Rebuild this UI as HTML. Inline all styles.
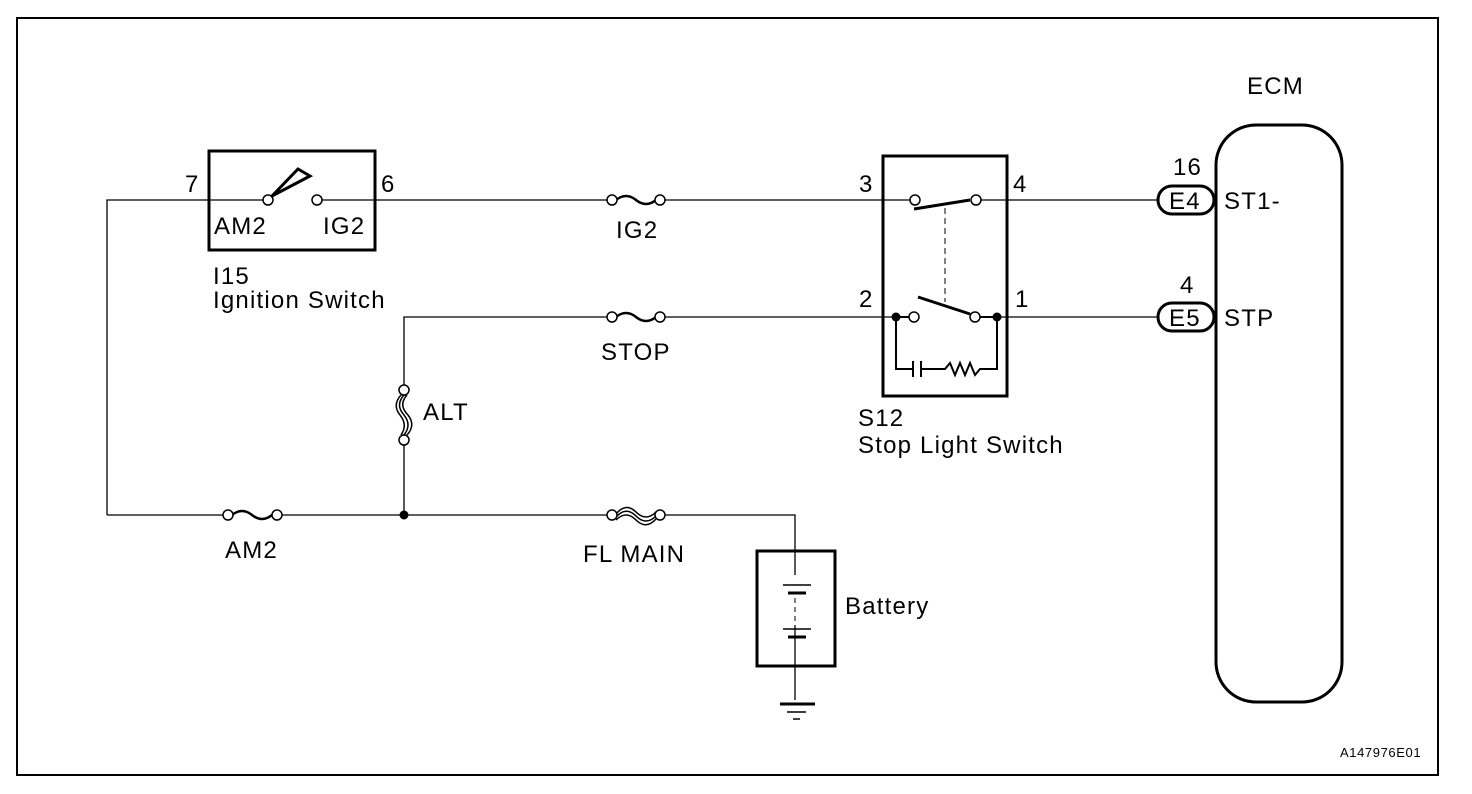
<!DOCTYPE html>
<html><head><style>body{margin:0;background:#fff}svg{display:block}text{font-family:"Liberation Sans",Arial,sans-serif;fill:#000}</style></head><body>
<svg width="1472" height="794" viewBox="0 0 1472 794" xmlns="http://www.w3.org/2000/svg">
<rect x="17" y="18" width="1421" height="757" fill="none" stroke="#000" stroke-width="2"/>
<g fill="none" stroke="#000" stroke-width="1.3">
<polyline points="107,515 107,200 263,200"/>
<line x1="322" y1="200" x2="607" y2="200"/>
<line x1="665" y1="200" x2="910" y2="200"/>
<line x1="981" y1="200" x2="1158" y2="200"/>
<polyline points="404,385 404,317 607,317"/>
<line x1="665" y1="317" x2="909" y2="317"/>
<line x1="980" y1="317" x2="1158" y2="317"/>
<line x1="404" y1="445" x2="404" y2="515"/>
<line x1="107" y1="515" x2="223" y2="515"/>
<line x1="282" y1="515" x2="607" y2="515"/>
<polyline points="665,515 795,515 795,700"/>
</g>
<g fill="none" stroke="#000" stroke-width="3">
<rect x="209" y="151" width="166" height="99"/>
<rect x="883" y="156" width="124" height="240"/>
<rect x="757" y="551" width="78" height="115"/>
<rect x="1216" y="125" width="126" height="577" rx="40"/>
<rect x="1158" y="186" width="56" height="28" rx="14"/>
<rect x="1158" y="303" width="56" height="28" rx="14"/>
</g>
<path d="M272,196 L298,169 L310,176 Z" fill="none" stroke="#000" stroke-width="3" stroke-linejoin="miter"/>
<g fill="#fff" stroke="#000" stroke-width="1.5">
<circle cx="268" cy="200" r="5"/><circle cx="317" cy="200" r="5"/>
<circle cx="915" cy="200" r="5"/><circle cx="976" cy="200" r="5"/>
<circle cx="914" cy="317" r="5"/><circle cx="975" cy="317" r="5"/>
</g>
<g stroke="#000" fill="none">
<line x1="914" y1="209" x2="970" y2="200" stroke-width="3"/>
<line x1="945" y1="208" x2="945" y2="302" stroke-width="1" stroke-dasharray="6,4"/>
<line x1="918" y1="297" x2="970" y2="314" stroke-width="3"/>
<line x1="896" y1="317" x2="909" y2="317" stroke-width="2"/>
<line x1="980" y1="317" x2="997" y2="317" stroke-width="2"/>
<polyline points="896,317 896,369 913,369" stroke-width="2"/>
<line x1="913" y1="361" x2="913" y2="377" stroke-width="2"/>
<line x1="921" y1="361" x2="921" y2="377" stroke-width="2"/>
<polyline points="921,369 945,369 950,363 955,375 960,363 965,375 970,363 975,375 980,369 997,369 997,317" stroke-width="2"/>
</g>
<g fill="#000"><circle cx="896" cy="317" r="4.5"/><circle cx="997" cy="317" r="4.5"/><circle cx="404" cy="515" r="4.5"/></g>
<g fill="none" stroke="#000" stroke-width="2.5">
<path d="M616,200 Q626,192 636,200 Q646,208 656,200"/>
<path d="M616,317 Q626,309 636,317 Q646,325 656,317"/>
<path d="M232,515 Q242,507 252,515 Q262,523 272,515"/>
</g>
<g fill="none" stroke="#000" stroke-width="1.5">
<path d="M616,514 Q626,502 636,512 Q646,522 656,512"/>
<path d="M616,517 Q626,506 636,516 Q646,526 656,516"/>
<path d="M616,520 Q626,510 636,520 Q646,530 656,519"/>
<path d="M401,395 Q392,405 400,415 Q408,425 401,435"/>
<path d="M404,395 Q395,405 404,415 Q412,425 404,435"/>
<path d="M407,395 Q398,405 408,415 Q416,425 407,435"/>
</g>
<g fill="#fff" stroke="#000" stroke-width="1.5">
<circle cx="612" cy="200" r="5"/><circle cx="660" cy="200" r="5"/>
<circle cx="612" cy="317" r="5"/><circle cx="660" cy="317" r="5"/>
<circle cx="228" cy="515" r="5"/><circle cx="277" cy="515" r="5"/>
<circle cx="612" cy="515" r="5"/><circle cx="660" cy="515" r="5"/>
<circle cx="404" cy="390" r="5"/><circle cx="404" cy="440" r="5"/>
</g>
<rect x="780" y="575" width="30" height="50" fill="#fff"/>
<g stroke="#000" fill="none">
<line x1="783" y1="585" x2="811" y2="585" stroke-width="1.5"/>
<line x1="788" y1="593" x2="806" y2="593" stroke-width="3"/>
<line x1="783" y1="629" x2="811" y2="629" stroke-width="1.5"/>
<line x1="788" y1="637" x2="806" y2="637" stroke-width="3"/>
<line x1="795" y1="598" x2="795" y2="624" stroke-width="1" stroke-dasharray="5,4"/>
<line x1="780" y1="704" x2="815" y2="704" stroke-width="3"/>
<line x1="787" y1="712" x2="806" y2="712" stroke-width="1.5"/>
<line x1="793" y1="719" x2="800" y2="719" stroke-width="1.5"/>
</g>
<g font-size="24" letter-spacing="1.2">
<text x="185" y="192">7</text><text x="381" y="192">6</text>
<text x="214" y="234">AM2</text><text x="323" y="234">IG2</text>
<text x="213" y="284">I15</text><text x="213" y="308">Ignition Switch</text>
<text x="616" y="238">IG2</text>
<text x="601" y="360">STOP</text>
<text x="423" y="420">ALT</text>
<text x="225" y="558">AM2</text>
<text x="583" y="562">FL MAIN</text>
<text x="845" y="614">Battery</text>
<text x="859" y="192">3</text><text x="1013" y="192">4</text>
<text x="859" y="307">2</text><text x="1015" y="307">1</text>
<text x="858" y="426">S12</text><text x="858" y="453">Stop Light Switch</text>
<text x="1173" y="175">16</text><text x="1180" y="293">4</text>
<text x="1169" y="209">E4</text><text x="1169" y="326">E5</text>
<text x="1224" y="209">ST1-</text><text x="1224" y="326">STP</text>
<text x="1247" y="94">ECM</text>
</g>
<text x="1340" y="757" font-size="13" letter-spacing="0.6">A147976E01</text>
</svg>
</body></html>
